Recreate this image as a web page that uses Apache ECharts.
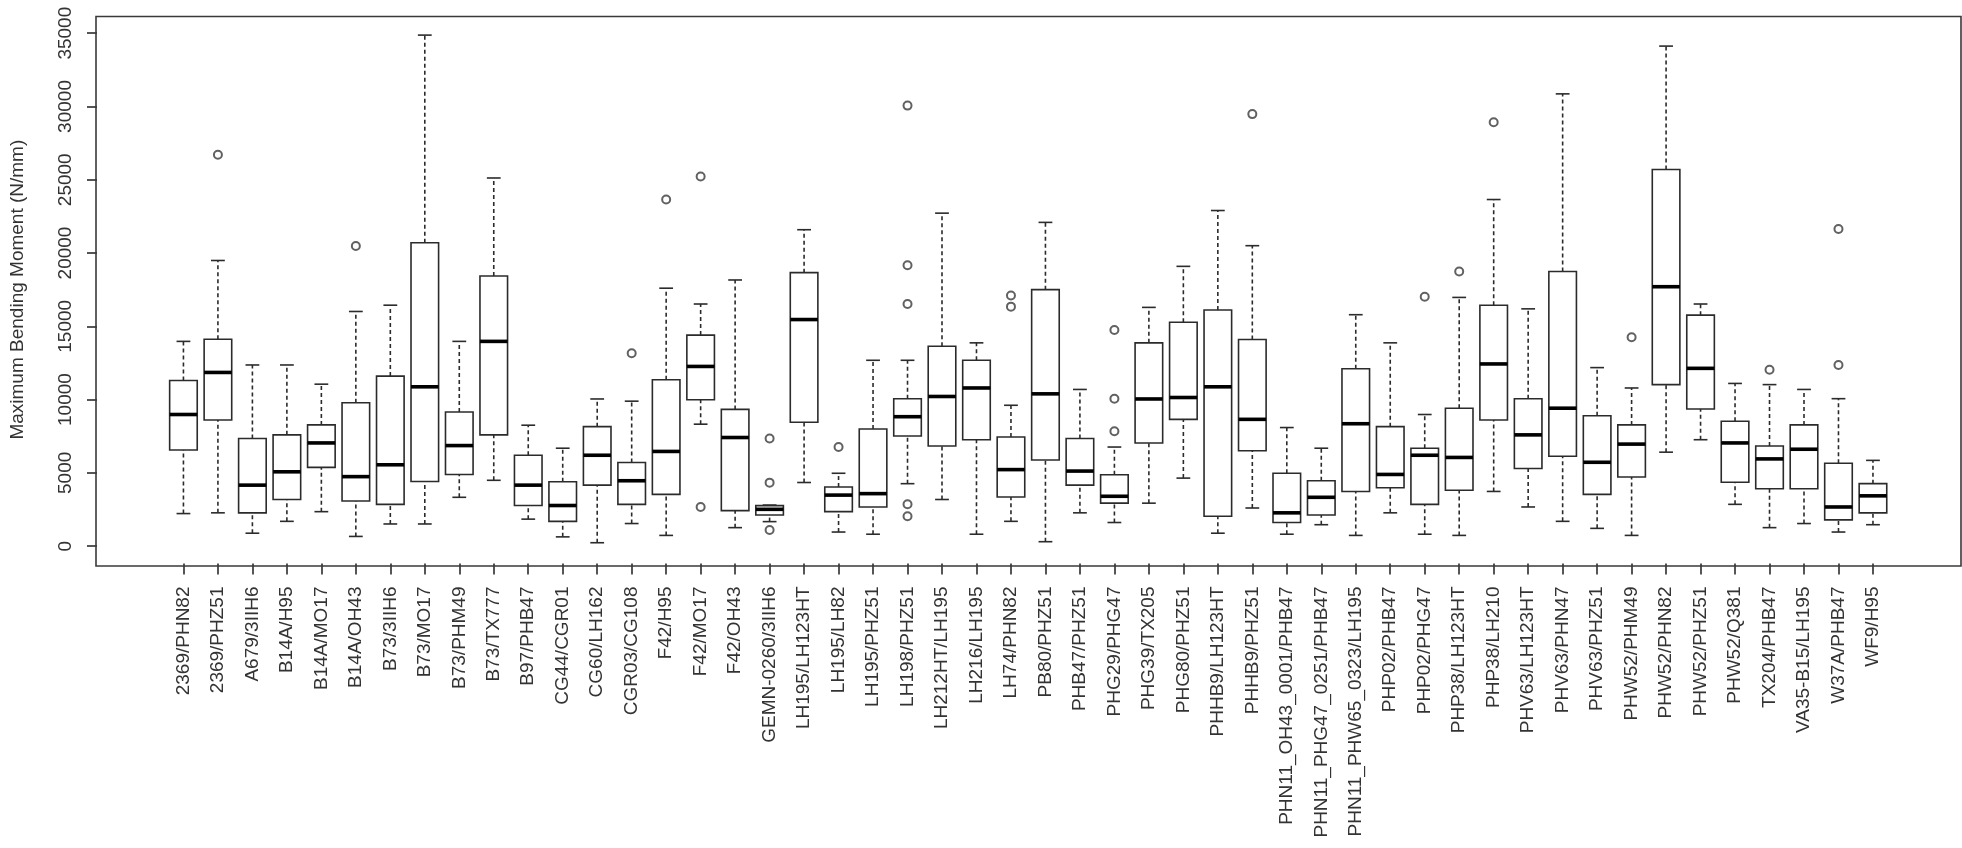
<!DOCTYPE html>
<html>
<head>
<meta charset="utf-8">
<script src="https://cdn.jsdelivr.net/npm/echarts@6/dist/echarts.min.js"></script>
<style>
  html, body { margin: 0; padding: 0; background: #fff; }
  #chart { width: 1962px; height: 848px; }
</style>
</head>
<body>
<div id="chart"></div>
<script>
const categories = [
  '2369/PHN82','2369/PHZ51','A679/3IIH6','B14A/H95','B14A/MO17','B14A/OH43','B73/3IIH6','B73/MO17','B73/PHM49','B73/TX777',
  'B97/PHB47','CG44/CGR01','CG60/LH162','CGR03/CG108','F42/H95','F42/MO17','F42/OH43','GEMN-0260/3IIH6','LH195/LH123HT','LH195/LH82',
  'LH195/PHZ51','LH198/PHZ51','LH212HT/LH195','LH216/LH195','LH74/PHN82','PB80/PHZ51','PHB47/PHZ51','PHG29/PHG47','PHG39/TX205','PHG80/PHZ51',
  'PHHB9/LH123HT','PHHB9/PHZ51','PHN11_OH43_0001/PHB47','PHN11_PHG47_0251/PHB47','PHN11_PHW65_0323/LH195','PHP02/PHB47','PHP02/PHG47','PHP38/LH123HT','PHP38/LH210','PHV63/LH123HT',
  'PHV63/PHN47','PHV63/PHZ51','PHW52/PHM49','PHW52/PHN82','PHW52/PHZ51','PHW52/Q381','TX204/PHB47','VA35-B15/LH195','W37A/PHB47','WF9/H95'
];
const lowerWhisker = [2220,2270,880,1690,2350,660,1510,1510,3330,4490, 1840,630,230,1540,730,8320,1260,1670,4340,960, 810,4260,3180,810,1690,300,2270,1610,2930,4640, 880,2600,810,1460,730,2270,810,730,3730,2670, 1690,1210,730,6410,7260,2850,1260,1540,960,1460];
const q1 = [6560,8600,2270,3180,5370,3080,2850,4410,4890,7590, 2770,1690,4160,2850,3530,9990,2420,2120,8450,2350, 2670,7510,6830,7260,3350,5880,4160,2930,7040,8650, 2040,6510,1610,2120,3730,3980,2850,3810,8600,5300, 6130,3530,4720,11020,9360,4360,3910,3910,1790,2270];
const median = [8980,11850,4160,5070,7040,4740,5550,10870,6860,13970, 4160,2770,6200,4460,6460,12260,7410,2510,15460,3480, 3580,8830,10210,10790,5220,10390,5120,3400,10040,10140, 10870,8650,2270,3330,8350,4890,6200,6050,12430,7590, 9410,5720,6960,17700,12130,7040,5950,6610,2670,3430];
const q3 = [11300,14120,7340,7590,8270,9780,11600,20700,9150,18430, 6200,4390,8150,5700,11350,14400,9330,2760,18660,4030, 7990,10060,13640,12680,7440,17500,7340,4870,13870,15280, 16110,14100,4970,4460,12100,8150,6680,9410,16440,10060, 18740,8900,8270,25700,15760,8520,6830,8270,5650,4260];
const upperWhisker = [13970,19490,12360,12360,11050,16010,16440,34870,13970,25120, 8250,6680,10040,9890,17600,16520,18160,2800,21590,4970, 12680,12680,22720,13870,9610,22090,10690,6760,16290,19090, 22900,20500,8090,6680,15790,13870,8980,16970,23650,16190, 30860,12180,10790,34120,16520,11100,11020,10690,10060,5850];
const outliers = [
  ['2369/PHZ51',26700],['B14A/OH43',20480],['CGR03/CG108',13160],['F42/H95',23650],['F42/MO17',25220],['F42/MO17',2670],
  ['GEMN-0260/3IIH6',7340],['GEMN-0260/3IIH6',4330],['GEMN-0260/3IIH6',1100],['LH195/LH82',6760],
  ['LH198/PHZ51',30060],['LH198/PHZ51',19160],['LH198/PHZ51',16520],['LH198/PHZ51',2850],['LH198/PHZ51',2040],
  ['LH74/PHN82',17100],['LH74/PHN82',16340],['PHG29/PHG47',14750],['PHG29/PHG47',10060],['PHG29/PHG47',7840],
  ['PHHB9/PHZ51',29480],['PHP02/PHG47',17020],['PHP38/LH123HT',18740],['PHP38/LH210',28920],['PHW52/PHM49',14250],
  ['TX204/PHB47',12030],['W37A/PHB47',21640],['W37A/PHB47',12360]
];
const yTicks = { min: 0, max: 35000, interval: 5000 };
const yTitle = 'Maximum Bending Moment (N/mm)';

const boxData = categories.map((c, i) => [i, lowerWhisker[i], q1[i], median[i], q3[i], upperWhisker[i]]);

const LINE = '#2b2b2b';
const FONT = "'Liberation Sans', Arial, sans-serif";
const TXT = '#333';
const FS = 19;

const chart = echarts.init(document.getElementById('chart'), null, { renderer: 'canvas' });

function renderBox(params, api) {
  const x = api.value(0);
  const band = api.size([1, 0])[0];
  const halfBox = band * 0.4;
  const halfStaple = band * 0.2;
  const pLw = api.coord([x, api.value(1)]);
  const pQ1 = api.coord([x, api.value(2)]);
  const pMed = api.coord([x, api.value(3)]);
  const pQ3 = api.coord([x, api.value(4)]);
  const pUw = api.coord([x, api.value(5)]);
  const cx = pMed[0];
  const dash = { stroke: LINE, lineWidth: 1.6, lineDash: [4, 3] };
  const solid = { stroke: LINE, lineWidth: 1.6 };
  return {
    type: 'group',
    children: [
      { type: 'line', shape: { x1: cx, y1: pQ3[1], x2: cx, y2: pUw[1] }, style: dash },
      { type: 'line', shape: { x1: cx, y1: pLw[1], x2: cx, y2: pQ1[1] }, style: dash },
      { type: 'line', shape: { x1: cx - halfStaple, y1: pUw[1], x2: cx + halfStaple, y2: pUw[1] }, style: solid },
      { type: 'line', shape: { x1: cx - halfStaple, y1: pLw[1], x2: cx + halfStaple, y2: pLw[1] }, style: solid },
      { type: 'rect', shape: { x: cx - halfBox, y: pQ3[1], width: halfBox * 2, height: pQ1[1] - pQ3[1] },
        style: { fill: '#fff', stroke: LINE, lineWidth: 1.6 } },
      { type: 'line', shape: { x1: cx - halfBox, y1: pMed[1], x2: cx + halfBox, y2: pMed[1] },
        style: { stroke: '#000', lineWidth: 3.6 } }
    ]
  };
}

const option = {
  backgroundColor: '#fff',
  animation: false,
  textStyle: { fontFamily: FONT },
  grid: { left: 162.7, right: 71.8, top: 33.2, bottom: 301.9, containLabel: false },
  graphic: [
    { type: 'rect', left: 93.5, top: 14, shape: { x: 0, y: 0, width: 1865, height: 549.5 },
      style: { fill: 'none', stroke: '#3a3a3a', lineWidth: 1.6 }, z: 10, silent: true }
  ],
  xAxis: {
    type: 'category',
    data: categories,
    boundaryGap: true,
    offset: 17.4,
    axisLine: { show: false, onZero: false },
    axisTick: { show: true, inside: false, alignWithLabel: true, interval: 0, length: 11, lineStyle: { color: LINE, width: 1.6 } },
    axisLabel: { interval: 0, rotate: 90, margin: 23, fontSize: FS, color: TXT, fontFamily: FONT },
    splitLine: { show: false }
  },
  yAxis: {
    type: 'value',
    min: yTicks.min, max: yTicks.max, interval: yTicks.interval,
    offset: 69.2,
    axisLine: { show: false, onZero: false },
    axisTick: { show: true, inside: false, length: 10, lineStyle: { color: LINE, width: 1.6 } },
    axisLabel: { rotate: 90, margin: 22, fontSize: FS, color: TXT, fontFamily: FONT, formatter: v => String(v) },
    splitLine: { show: false },
    name: yTitle,
    nameLocation: 'middle',
    nameRotate: 90,
    nameGap: 70,
    nameTextStyle: { fontSize: FS, color: TXT, fontFamily: FONT }
  },
  series: [
    {
      type: 'custom',
      renderItem: renderBox,
      data: boxData,
      encode: { x: 0, y: [1, 2, 3, 4, 5] },
      clip: false,
      z: 2
    },
    {
      type: 'scatter',
      data: outliers,
      symbol: 'emptyCircle',
      symbolSize: 8,
      itemStyle: { color: '#3a3a3a', borderColor: '#3a3a3a', borderWidth: 1.4 },
      z: 3
    }
  ]
};
chart.setOption(option);
</script>
</body>
</html>
